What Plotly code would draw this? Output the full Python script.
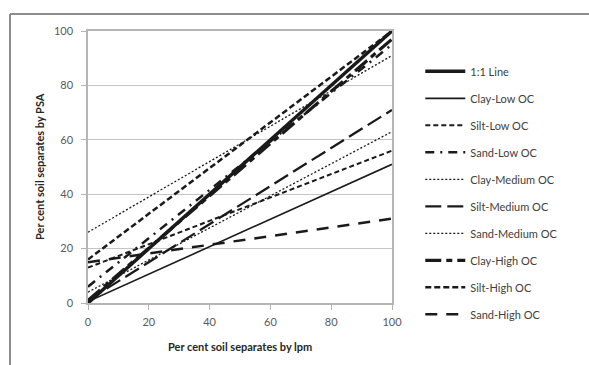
import plotly.graph_objects as go

# Regression lines: value at lpm = 0 and at lpm = 100
series_names = ["1:1 Line", "Clay-Low OC", "Silt-Low OC", "Sand-Low OC",
                "Clay-Medium OC", "Silt-Medium OC", "Sand-Medium OC",
                "Clay-High OC", "Silt-High OC", "Sand-High OC"]
x_values = [0, 100]
start_values = [0, 0.5, 13, 6, 4, 1, 26, 1, 16, 15]
end_values = [100, 51, 56, 95, 63, 71, 91, 97, 100, 31]
x_ticks = [0, 20, 40, 60, 80, 100]
y_ticks = [0, 20, 40, 60, 80, 100]

styles = [
    dict(width=3.5, dash="solid"),
    dict(width=1.6, dash="solid"),
    dict(width=2.0, dash="5px,3px"),
    dict(width=2.5, dash="9px,6px,2px,6px"),
    dict(width=1.3, dash="2px,2px"),
    dict(width=2.3, dash="16px,6px"),
    dict(width=1.3, dash="2px,2px"),
    dict(width=3.2, dash="16px,5px,6px,5px"),
    dict(width=2.5, dash="6px,3px"),
    dict(width=2.5, dash="12px,9px"),
]

fig = go.Figure()
for name, s, e, st in zip(series_names, start_values, end_values, styles):
    fig.add_trace(go.Scatter(
        x=x_values, y=[s, e], mode="lines", name=name, legendgroup=name,
        line=dict(color="#1a1a1a", width=st["width"], dash=st["dash"]),
    ))

font_family = "Lato, 'Open Sans', sans-serif"
fig.update_layout(
    width=589, height=365,
    margin=dict(l=88, r=197, t=31, b=62),
    paper_bgcolor="white", plot_bgcolor="white",
    font=dict(family=font_family, size=11, color="#404040"),
    showlegend=True,
    legend=dict(x=1.093, y=0.905, xanchor="left", yanchor="top",
                tracegroupgap=8, itemwidth=40,
                font=dict(family=font_family, size=11, color="#404040"),
                bgcolor="rgba(0,0,0,0)"),
    xaxis=dict(range=[0, 100], tickvals=x_ticks, showgrid=False, zeroline=False,
               showline=True, linecolor="#b5b5b5", linewidth=1.5, mirror=True,
               ticks="outside", ticklen=5, tickcolor="#b5b5b5",
               ticklabelstandoff=3,
               tickfont=dict(size=11, color="#595959")),
    yaxis=dict(range=[0, 100], tickvals=y_ticks, showgrid=True, gridcolor="#c4c4c4",
               gridwidth=1.2, zeroline=False,
               showline=True, linecolor="#b5b5b5", linewidth=1.5, mirror=True,
               ticks="outside", ticklen=5, tickcolor="#b5b5b5",
               ticklabelstandoff=6,
               tickfont=dict(size=11, color="#595959")),
    annotations=[
        dict(text="<b>Per cent soil separates by lpm</b>", xref="paper", yref="paper",
             x=0.5, y=(303 - 346) / 272, xanchor="center", yanchor="middle",
             showarrow=False, font=dict(size=11, color="#262626")),
        dict(text="<b>Per cent soil separates by PSA</b>", xref="paper", yref="paper",
             x=(39 - 88) / 304, y=0.5, xanchor="center", yanchor="middle",
             textangle=-90, showarrow=False, font=dict(size=11, color="#262626")),
    ],
    shapes=[
        dict(type="line", xref="paper", yref="paper",
             x0=(10 - 88) / 304, x1=(600 - 88) / 304,
             y0=(303 - 14) / 272, y1=(303 - 14) / 272,
             line=dict(color="#8c8c8c", width=2)),
        dict(type="line", xref="paper", yref="paper",
             x0=(10 - 88) / 304, x1=(10 - 88) / 304,
             y0=(303 - 14) / 272, y1=(303 - 380) / 272,
             line=dict(color="#8c8c8c", width=2)),
    ],
)

fig.write_html("out.html")
